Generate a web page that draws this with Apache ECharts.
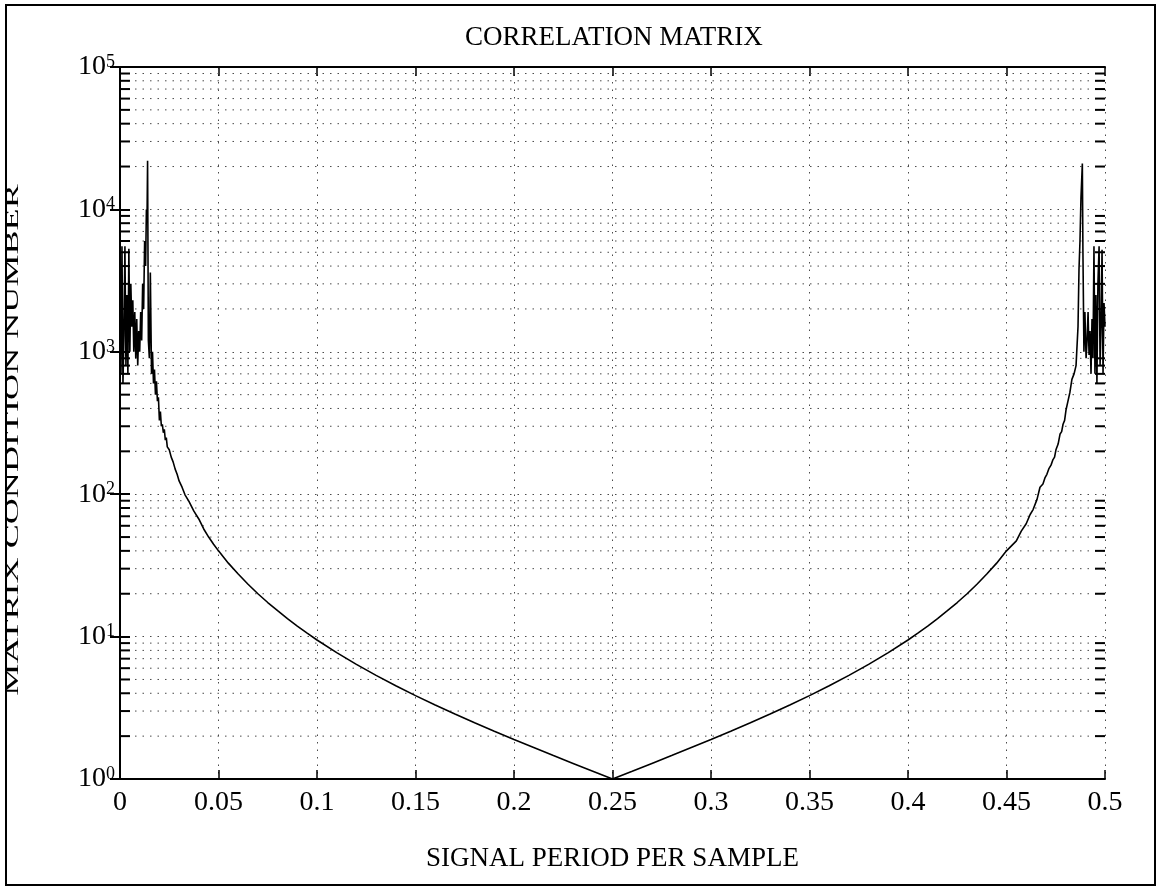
<!DOCTYPE html>
<html>
<head>
<meta charset="utf-8">
<script src="https://cdn.jsdelivr.net/npm/echarts@6/dist/echarts.min.js"></script>
<style>
html,body{margin:0;padding:0;background:#fff;}
#chart{width:1161px;height:893px;}
</style>
</head>
<body>
<div id="chart"></div>
<script>
// ---- data ----
const periods = [
  0.0003,0.0005,0.0010,0.0015,0.0020,0.0025,0.0030,0.0035,0.0040,0.0045,
  0.0050,0.0055,0.0060,0.0065,0.0070,0.0075,0.0080,0.0085,0.0090,0.0095,
  0.0100,0.0105,0.0110,0.0115,0.0120,0.0125,0.0130,0.0134,0.0137,0.0140,
  0.0144,0.0149,0.0154,0.0160,0.0165,0.0170,0.0175,0.0180,0.0185,0.0190,
  0.0195,0.0200,0.0205,0.0210,0.0215,0.0220,0.0225,0.0230,0.0235,0.0240,
  0.0250,0.0260,0.0270,0.0280,0.0290,0.0300,0.0315,0.0330,0.0350,0.0375,
  0.0400,0.0425,0.0450,0.0475,0.0500,0.055,0.060,0.065,0.070,0.075,
  0.080,0.085,0.090,0.095,0.100,0.110,0.120,0.130,0.140,0.150,
  0.160,0.170,0.180,0.190,0.200,0.210,0.220,0.230,0.240,0.250,
  0.260,0.270,0.280,0.290,0.300,0.310,0.320,0.330,0.340,0.350,
  0.360,0.370,0.380,0.390,0.400,0.405,0.410,0.415,0.420,0.425,
  0.430,0.435,0.440,0.445,0.450,0.455,0.4575,0.4600,0.4620,0.4635,
  0.4655,0.4670,0.4685,0.4695,0.4705,0.4716,0.4726,0.4736,0.4744,0.4751,
  0.4762,0.4772,0.4780,0.4787,0.4795,0.4802,0.4812,
  0.4822,0.4832,0.4843,0.4853,0.4863,0.4868,0.4873,0.4878,0.4885,0.4888,
  0.4893,0.4898,0.4904,0.4909,0.4914,0.4919,0.4924,0.4929,0.4934,0.4939,
  0.4944,0.4949,0.4954,0.4959,0.4964,0.4970,0.4975,0.4980,0.4985,0.4990,
  0.4995,0.5000
];
const conditionNumbers = [
  2000,700,5500,600,1300,5500,800,2500,700,5300,
  1000,3000,1500,2300,1000,1900,900,1700,800,1400,
  1000,1900,1200,3000,2000,6000,4000,10000,8000,22000,
  1200,900,3600,700,1000,600,750,500,620,450,
  480,330,380,300,310,270,285,240,250,215,
  205,182,168,150,138,124,112,99,89,76,
  67,57,50,44.5,40,32.8,27.5,23.3,20.0,17.35,
  15.2,13.36,11.85,10.57,9.47,7.72,6.38,5.34,4.52,3.85,
  3.31,2.86,2.48,2.165,1.894,1.662,1.461,1.287,1.134,1.0,
  1.134,1.287,1.461,1.662,1.894,2.165,2.48,2.86,3.31,3.85,
  4.52,5.34,6.38,7.72,9.47,10.57,11.85,13.36,15.2,17.35,
  20.0,23.3,27.5,32.8,40,47,55,62,72,78,
  92,112,118,130,138,152,160,175,182,205,
  225,265,275,310,330,390,450,
  520,640,700,800,1500,3800,6000,12000,21000,5000,
  1000,1900,900,1200,1900,950,1400,700,1700,900,
  5500,700,2500,600,3000,5500,800,1500,5200,700,
  2200,1500
];
const xTicks = [0,0.05,0.1,0.15,0.2,0.25,0.3,0.35,0.4,0.45,0.5];
const xTickLabels = ['0','0.05','0.1','0.15','0.2','0.25','0.3','0.35','0.4','0.45','0.5'];
const yMinorValues = [
  2,3,4,5,6,7,8,9,
  20,30,40,50,60,70,80,90,
  200,300,400,500,600,700,800,900,
  2000,3000,4000,5000,6000,7000,8000,9000,
  20000,30000,40000,50000,60000,70000,80000,90000
];
const titleText = 'CORRELATION MATRIX';
const xName = 'SIGNAL PERIOD PER SAMPLE';
const yName = 'MATRIX CONDITION NUMBER';

const FONT = 'Liberation Serif';
const xMin = 0, xMax = 0.5, yMin = 1, yMax = 100000;

const chart = echarts.init(document.getElementById('chart'), null, {renderer:'canvas'});

function xLabel(v){
  for (let i = 0; i < xTicks.length; i++) if (Math.abs(xTicks[i]-v) < 1e-9) return xTickLabels[i];
  return '';
}
function yLabel(v){
  const e = Math.round(Math.log10(v));
  return '{b|10}{s|' + e + '}';
}
const gridDots = {color:'#4a4a4a', width:1, type:[1.5,6]};

const option = {
  animation:false,
  backgroundColor:'#fff',
  title:{
    text:titleText, left:460, top:19,
    textStyle:{fontFamily:FONT, fontSize:27, fontWeight:'normal', color:'#000'}
  },
  grid:{left:120, right:56, top:67, bottom:114, containLabel:false},
  xAxis:[{
    type:'value', min:xMin, max:xMax, interval:0.05, position:'bottom',
    name:xName, nameLocation:'middle', nameGap:66,
    nameTextStyle:{fontFamily:FONT, fontSize:27, color:'#000'},
    axisLine:{show:true, lineStyle:{color:'#000', width:2}},
    axisTick:{show:true, inside:true, length:9, lineStyle:{color:'#000', width:1.5}},
    axisLabel:{formatter:xLabel, fontFamily:FONT, fontSize:28, color:'#000', margin:10, showMinLabel:true, showMaxLabel:true},
    splitLine:{show:true, lineStyle:gridDots}
  },{
    type:'value', min:xMin, max:xMax, interval:0.05, position:'top',
    axisLine:{show:true, lineStyle:{color:'#000', width:2}},
    axisTick:{show:true, inside:true, length:9, lineStyle:{color:'#000', width:1.5}},
    axisLabel:{show:false}, splitLine:{show:false}
  }],
  yAxis:[{
    type:'log', logBase:10, min:yMin, max:yMax, splitNumber:5, position:'left',
    axisLine:{show:true, lineStyle:{color:'#000', width:2}},
    axisTick:{show:true, inside:true, length:10, lineStyle:{color:'#000', width:2}},
    axisLabel:{
      formatter:yLabel, margin:5, color:'#000',
      rich:{
        b:{fontFamily:FONT, fontSize:28, lineHeight:28, color:'#000'},
        s:{fontFamily:FONT, fontSize:18, lineHeight:18, color:'#000', verticalAlign:'top'}
      }
    },
    splitLine:{show:true, lineStyle:gridDots}
  },{
    type:'log', logBase:10, min:yMin, max:yMax, splitNumber:5, position:'right',
    axisLine:{show:true, lineStyle:{color:'#000', width:2}},
    axisTick:{show:true, inside:true, length:10, lineStyle:{color:'#000', width:2}},
    axisLabel:{show:false}, splitLine:{show:false}
  }],
  graphic:[
    {type:'rect', shape:{x:6, y:5, width:1149, height:880}, style:{fill:null, stroke:'#000', lineWidth:2}, silent:true, z:100},
    {type:'text', x:13, y:440, rotation:Math.PI/2, scaleX:1.9, scaleY:1,
     style:{text:yName, font:'19px "Liberation Serif"', fill:'#000', align:'center', verticalAlign:'middle'}, silent:true}
  ],
  series:[{
    type:'custom', xAxisIndex:0, yAxisIndex:0, silent:true, clip:false, z:1,
    encode:{x:0, y:1},
    data:yMinorValues.map(v => [xMin, v]),
    renderItem:function(params, api){
      const v = api.value(1);
      const a = api.coord([xMin, v]);
      const b = api.coord([xMax, v]);
      return {type:'group', children:[
        {type:'line', shape:{x1:a[0], y1:a[1], x2:b[0], y2:b[1]}, style:{stroke:'#4a4a4a', lineWidth:1, lineDash:[1.5,6]}},
        {type:'line', shape:{x1:a[0], y1:a[1], x2:a[0]+10, y2:a[1]}, style:{stroke:'#000', lineWidth:2}},
        {type:'line', shape:{x1:b[0]-10, y1:b[1], x2:b[0], y2:b[1]}, style:{stroke:'#000', lineWidth:2}}
      ]};
    }
  },{
    type:'line', xAxisIndex:0, yAxisIndex:0, z:5,
    data:periods.map((x,i) => [x, conditionNumbers[i]]),
    showSymbol:false, symbol:'none', smooth:false,
    lineStyle:{color:'#000', width:1.6}
  }]
};
chart.setOption(option);
</script>
</body>
</html>
